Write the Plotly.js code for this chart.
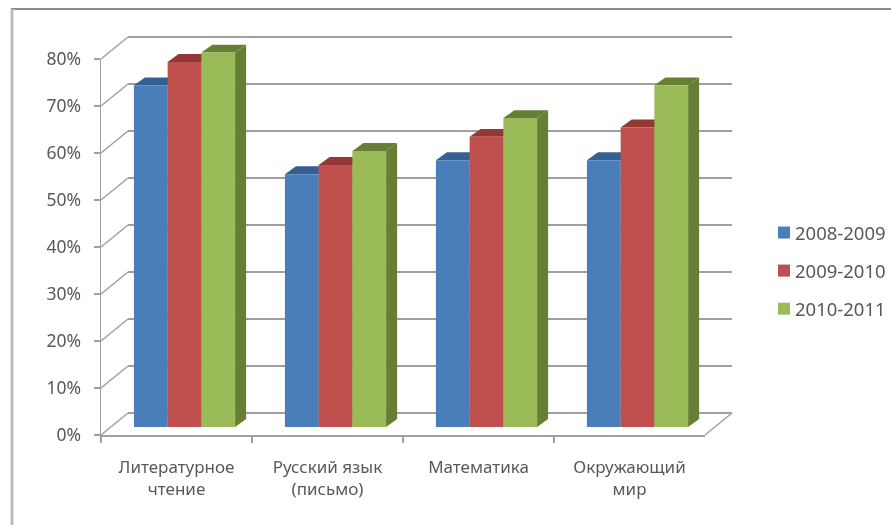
<!DOCTYPE html>
<html><head><meta charset="utf-8">
<script src="https://cdn.plot.ly/plotly-3.0.1.min.js"></script>
<style>html,body{margin:0;padding:0;background:#fff}#c{width:891px;height:525px;filter:blur(0.75px)}</style>
</head><body><div id="c"></div>
<script>
const categories = ['Литературное<br>чтение','Русский язык<br>(письмо)','Математика','Окружающий<br>мир'];
const seriesNames = ['2008-2009','2009-2010','2010-2011'];
const values2008 = [73,54,57,57];
const values2009 = [78,56,62,64];
const values2010 = [80,59,66,73];
const yTicks = [0,10,20,30,40,50,60,70,80];
const faceColors = ['#4a7ebb','#c0504d','#9bbb59'];
const topColors = ['#376092','#953735','#667f35'];
const allValues = [values2008,values2009,values2010];

const W=891,H=525;
const dx=a=>a/W, dy=a=>1-a/H;
const grid='#a0a0a0', txt='#595959', font='"Noto Sans", sans-serif';
// three parallel planes of the pseudo-3D box: back wall, bar fronts, front axes
const back={l:128,r:732,y0:413,y80:37}, front={l:101,r:705,y0:435,y80:59};
const barPlane={l:109,unit:151,y0:427,perc:4.68};
const gap=0.33, bw=(1-gap)/3, depthX=0.073, depthY=1.7;
const backUnit=(back.y0-back.y80)/80;

const traces=[{x:categories,y:[null,null,null,null],type:'bar',xaxis:'x',yaxis:'y',showlegend:false,hoverinfo:'skip'}];
allValues.forEach((v,i)=>traces.push({type:'bar',name:seriesNames[i],legendgroup:seriesNames[i],x:categories,y:v,xaxis:'x2',yaxis:'y2',
  marker:{color:faceColors[i],line:{width:0}}}));
traces.push({x:categories,y:[null,null,null,null],type:'bar',xaxis:'x3',yaxis:'y3',showlegend:false,hoverinfo:'skip'});

const shapes=[];
allValues.forEach((v,i)=>v.forEach((val,k)=>{
  const x0=k-0.5+gap/2+i*bw, x1=x0+bw;
  shapes.push({type:'path',xref:'x2',yref:'y2',layer:'below',line:{width:0},fillcolor:topColors[i],
    path:`M${x0},${val}L${x0+depthX},${val+depthY}L${x1+depthX},${val+depthY}L${x1},${val}Z`});
  shapes.push({type:'path',xref:'x2',yref:'y2',layer:'below',line:{width:0},fillcolor:topColors[i],
    path:`M${x1},0L${x1+depthX},${depthY}L${x1+depthX},${val+depthY}L${x1},${val}Z`});
}));
const fy=(p,t)=>p.y0+(p.y80-p.y0)*t/80;
const seg=(a,b,c,d,col,w)=>({type:'line',xref:'paper',yref:'paper',layer:'below',x0:dx(a),y0:dy(b),x1:dx(c),y1:dy(d),line:{color:col||grid,width:w||1.5}});
yTicks.forEach(t=>shapes.push(seg(front.l,fy(front,t),back.l,fy(back,t))));
shapes.push(seg(front.r,front.y0,back.r,back.y0));
// outer frame of the picture
shapes.push(seg(11,9,891,9,'#8c8c8c',2),seg(12,9,12,525,'#bdbdbd',3));

const hidden={visible:false,fixedrange:true};
const layout={width:W,height:H,margin:{l:0,r:0,t:0,b:0},paper_bgcolor:'#fff',plot_bgcolor:'rgba(0,0,0,0)',
  barmode:'group',bargap:gap,bargroupgap:0,font:{family:font,size:15,color:txt},
  xaxis:{domain:[dx(back.l),dx(back.r)],type:'category',categoryarray:categories,range:[-0.5,3.5],anchor:'y',showticklabels:false,ticks:'',showline:false,showgrid:false,zeroline:false},
  yaxis:{domain:[dy(back.y0+3*backUnit),dy(back.y80-3*backUnit)],range:[-3,83],tickvals:yTicks,anchor:'x',showticklabels:false,ticks:'',showline:false,showgrid:true,gridcolor:grid,gridwidth:1.5,zeroline:false},
  xaxis2:Object.assign({},hidden,{domain:[dx(barPlane.l),dx(barPlane.l+4.1*barPlane.unit)],type:'category',categoryarray:categories,range:[-0.5,3.6],anchor:'y2'}),
  yaxis2:Object.assign({},hidden,{domain:[dy(barPlane.y0),dy(barPlane.y0-85*barPlane.perc)],range:[0,85],anchor:'x2'}),
  xaxis3:{domain:[dx(front.l),dx(front.r)],type:'category',categoryarray:categories,range:[-0.5,3.5],anchor:'y3',tickson:'boundaries',ticks:'outside',ticklen:6,tickwidth:1.5,tickcolor:grid,showline:true,linecolor:grid,linewidth:1.5,showgrid:false,zeroline:false,tickfont:{size:17,color:txt},ticklabelstandoff:16},
  yaxis3:{domain:[dy(front.y0),dy(front.y80)],range:[0,80],tickvals:yTicks,ticktext:yTicks.map(t=>t+'%'),anchor:'x3',ticks:'outside',ticklen:6,tickwidth:1.5,tickcolor:grid,showline:true,linecolor:grid,linewidth:1.5,showgrid:false,zeroline:false,tickfont:{size:17.5,color:txt},ticklabelstandoff:9},
  legend:{x:dx(755),xanchor:'left',y:dy(214),yanchor:'top',font:{size:18.5,color:txt},traceorder:'grouped',tracegroupgap:11,bgcolor:'rgba(0,0,0,0)'},
  shapes:shapes};
Plotly.newPlot('c',traces,layout,{displayModeBar:false,staticPlot:true}).then(()=>{
  document.querySelectorAll('.legend .legendpoints').forEach(g=>g.setAttribute('transform','translate(9,0)'));
});
</script></body></html>
